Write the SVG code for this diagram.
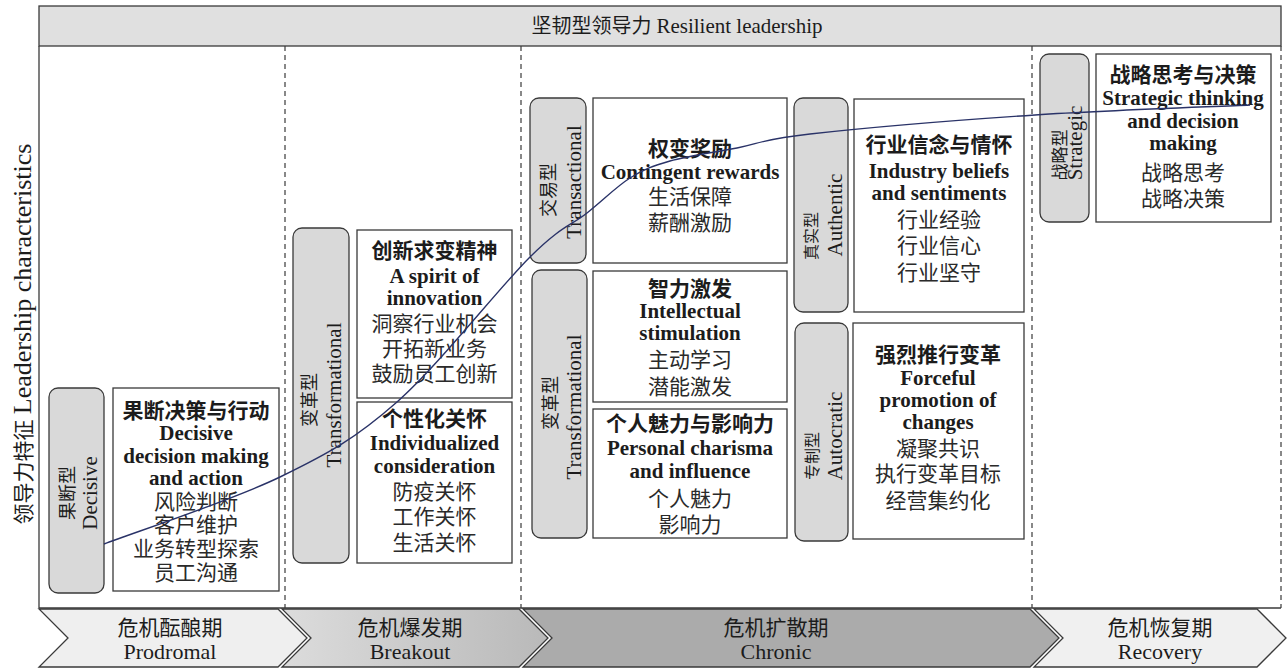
<svg xmlns="http://www.w3.org/2000/svg" width="1287" height="669" viewBox="0 0 1287 669">
<defs>
<style>
.g{fill:#d9d9d9;stroke:#3a3a3a;stroke-width:1.3}
.b{fill:#fff;stroke:#3a3a3a;stroke-width:1.3}
.t{font-family:"Liberation Serif","Noto Sans CJK SC",serif;fill:#1c1c1c;text-anchor:middle}
.h{font-weight:bold;font-size:21px}
.r{font-size:21px;fill:#2a2a2a}
.lc{font-size:18px}
.le{font-size:21px}
.d{stroke:#3a3a3a;stroke-width:1.2;stroke-dasharray:5 4;fill:none}
.f{stroke:#3a3a3a;stroke-width:1.3;fill:none}
.ch{stroke:#3a3a3a;stroke-width:1.3}
.pt{font-size:21px}
.pe{font-size:22px}
</style>
<linearGradient id="gb" x1="0" y1="0" x2="1" y2="0">
<stop offset="0" stop-color="#dcdcdc"/>
<stop offset="1" stop-color="#b9b9b9"/>
</linearGradient>
</defs>
<rect width="1287" height="669" fill="#fff"/>

<g id="frame">
<rect x="39" y="6" width="1242" height="40" fill="#e0e0e0" stroke="#3a3a3a" stroke-width="1.3"/>
<text class="t" x="677" y="33" font-size="20">坚韧型领导力 <tspan font-size="21">Resilient leadership</tspan></text>
<line class="f" x1="39" y1="46" x2="39" y2="608"/>
<line class="f" x1="39" y1="608" x2="1281" y2="608"/>
<line class="d" x1="1281" y1="46" x2="1281" y2="608"/>
<line class="d" x1="285" y1="46" x2="285" y2="608"/>
<line class="d" x1="521" y1="46" x2="521" y2="608"/>
<line class="d" x1="1032" y1="46" x2="1032" y2="608"/>
<text class="t" transform="translate(31,334) rotate(-90)" font-size="21">领导力特征 <tspan font-size="26">Leadership characteristics</tspan></text>
</g>

<g id="phases">
<g id="prodromal">
<polygon class="ch" fill="#efefef" points="39,609 278,609 307,638 278,667 39,667 68,638"/>
<text class="t pt" x="170" y="635">危机酝酿期</text>
<text class="t pe" x="170" y="659">Prodromal</text>
</g>
<g id="breakout">
<polygon class="ch" fill="url(#gb)" points="282,609 519,609 548,638 519,667 282,667 311,638"/>
<text class="t pt" x="410" y="635">危机爆发期</text>
<text class="t pe" x="410" y="659">Breakout</text>
</g>
<g id="chronic">
<polygon class="ch" fill="#ababab" points="523,609 1030,609 1059,638 1030,667 523,667 552,638"/>
<text class="t pt" x="776" y="635">危机扩散期</text>
<text class="t pe" x="776" y="659">Chronic</text>
</g>
<g id="recovery">
<polygon class="ch" fill="#f0f0f0" points="1034,609 1257,609 1286,638 1257,667 1034,667 1063,638"/>
<text class="t pt" x="1160" y="635">危机恢复期</text>
<text class="t pe" x="1160" y="659">Recovery</text>
</g>
</g>

<g id="decisive">
<rect class="g" x="49" y="388" width="55" height="205" rx="9"/>
<text class="t lc" transform="translate(74,493) rotate(-90)">果断型</text>
<text class="t le" transform="translate(97,493) rotate(-90)">Decisive</text>
<rect class="b" x="113" y="388" width="166" height="203"/>
<text class="t h" x="196" y="418">果断决策与行动</text>
<text class="t h" x="196" y="440">Decisive</text>
<text class="t h" x="196" y="463">decision making</text>
<text class="t h" x="196" y="485">and action</text>
<text class="t r" x="196" y="509">风险判断</text>
<text class="t r" x="196" y="532">客户维护</text>
<text class="t r" x="196" y="556">业务转型探索</text>
<text class="t r" x="196" y="580">员工沟通</text>
</g>

<g id="transformational-breakout">
<rect class="g" x="293" y="228" width="56" height="335" rx="9"/>
<text class="t lc" transform="translate(316,400) rotate(-90)">变革型</text>
<text class="t le" transform="translate(341,395) rotate(-90)">Transformational</text>
<rect class="b" x="357" y="230" width="155" height="168"/>
<text class="t h" x="434.5" y="258">创新求变精神</text>
<text class="t h" x="434.5" y="283">A spirit of</text>
<text class="t h" x="434.5" y="305">innovation</text>
<text class="t r" x="434.5" y="331">洞察行业机会</text>
<text class="t r" x="434.5" y="356">开拓新业务</text>
<text class="t r" x="434.5" y="381">鼓励员工创新</text>
<rect class="b" x="357" y="402" width="155" height="161"/>
<text class="t h" x="434.5" y="426">个性化关怀</text>
<text class="t h" x="434.5" y="450">Individualized</text>
<text class="t h" x="434.5" y="473">consideration</text>
<text class="t r" x="434.5" y="499">防疫关怀</text>
<text class="t r" x="434.5" y="524">工作关怀</text>
<text class="t r" x="434.5" y="550">生活关怀</text>
</g>

<g id="transactional">
<rect class="g" x="530" y="98" width="56" height="165" rx="9"/>
<text class="t lc" transform="translate(555,190) rotate(-90)">交易型</text>
<text class="t le" transform="translate(581,182) rotate(-90)">Transactional</text>
<rect class="b" x="593" y="98" width="194" height="165"/>
<text class="t h" x="690" y="156">权变奖励</text>
<text class="t h" x="690" y="179">Contingent rewards</text>
<text class="t r" x="690" y="204">生活保障</text>
<text class="t r" x="690" y="230">薪酬激励</text>
</g>

<g id="transformational-chronic">
<rect class="g" x="532" y="270" width="55" height="268" rx="9"/>
<text class="t lc" transform="translate(557,403) rotate(-90)">变革型</text>
<text class="t le" transform="translate(581,407) rotate(-90)">Transformational</text>
<rect class="b" x="593" y="271" width="194" height="131"/>
<text class="t h" x="690" y="296">智力激发</text>
<text class="t h" x="690" y="318">Intellectual</text>
<text class="t h" x="690" y="340">stimulation</text>
<text class="t r" x="690" y="367">主动学习</text>
<text class="t r" x="690" y="394">潜能激发</text>
<rect class="b" x="593" y="409" width="194" height="129"/>
<text class="t h" x="690" y="431">个人魅力与影响力</text>
<text class="t h" x="690" y="455">Personal charisma</text>
<text class="t h" x="690" y="478">and influence</text>
<text class="t r" x="690" y="506">个人魅力</text>
<text class="t r" x="690" y="532">影响力</text>
</g>

<g id="authentic">
<rect class="g" x="794" y="98" width="54" height="214" rx="9"/>
<text class="t" font-size="16" transform="translate(817,236) rotate(-90)">真实型</text>
<text class="t le" transform="translate(842,215) rotate(-90)">Authentic</text>
<rect class="b" x="854" y="99" width="170" height="213"/>
<text class="t h" x="939" y="152">行业信念与情怀</text>
<text class="t h" x="939" y="178">Industry beliefs</text>
<text class="t h" x="939" y="200">and sentiments</text>
<text class="t r" x="939" y="227">行业经验</text>
<text class="t r" x="939" y="253">行业信心</text>
<text class="t r" x="939" y="280">行业坚守</text>
</g>

<g id="autocratic">
<rect class="g" x="795" y="323" width="53" height="218" rx="9"/>
<text class="t" font-size="16" transform="translate(818,456) rotate(-90)">专制型</text>
<text class="t le" transform="translate(842,436) rotate(-90)">Autocratic</text>
<rect class="b" x="853" y="323" width="171" height="216"/>
<text class="t h" x="938" y="362">强烈推行变革</text>
<text class="t h" x="938" y="385">Forceful</text>
<text class="t h" x="938" y="407">promotion of</text>
<text class="t h" x="938" y="429">changes</text>
<text class="t r" x="938" y="456">凝聚共识</text>
<text class="t r" x="938" y="481">执行变革目标</text>
<text class="t r" x="938" y="508">经营集约化</text>
</g>

<g id="strategic">
<rect class="g" x="1040" y="54" width="49" height="168" rx="9"/>
<text class="t" font-size="17" transform="translate(1066,155) rotate(-90)">战略型</text>
<text class="t le" transform="translate(1082,143) rotate(-90)">Strategic</text>
<rect class="b" x="1096" y="54" width="175" height="168"/>
<text class="t h" x="1183" y="82">战略思考与决策</text>
<text class="t h" x="1183" y="105">Strategic thinking</text>
<text class="t h" x="1183" y="128">and decision</text>
<text class="t h" x="1183" y="150">making</text>
<text class="t r" x="1183" y="180">战略思考</text>
<text class="t r" x="1183" y="206">战略决策</text>
</g>

<g id="connectors">
<path d="M104,544 C133.3,532.8 231.2,500.7 280,477 C328.8,453.3 355.3,438.7 397,402 C438.7,365.3 498.3,288.5 530,257 C561.7,225.5 570.3,226.2 587,213 C603.7,199.8 616.2,186.7 630,178 C643.8,169.3 652.2,166 670,161 C687.8,156 713.7,152.5 737,148 C760.3,143.5 760.3,139.5 810,134 C859.7,128.5 961.7,119.8 1035,115 C1108.3,110.2 1214.2,106.7 1250,105" fill="none" stroke="#2a3368" stroke-width="1.4"/>
</g>
</svg>
